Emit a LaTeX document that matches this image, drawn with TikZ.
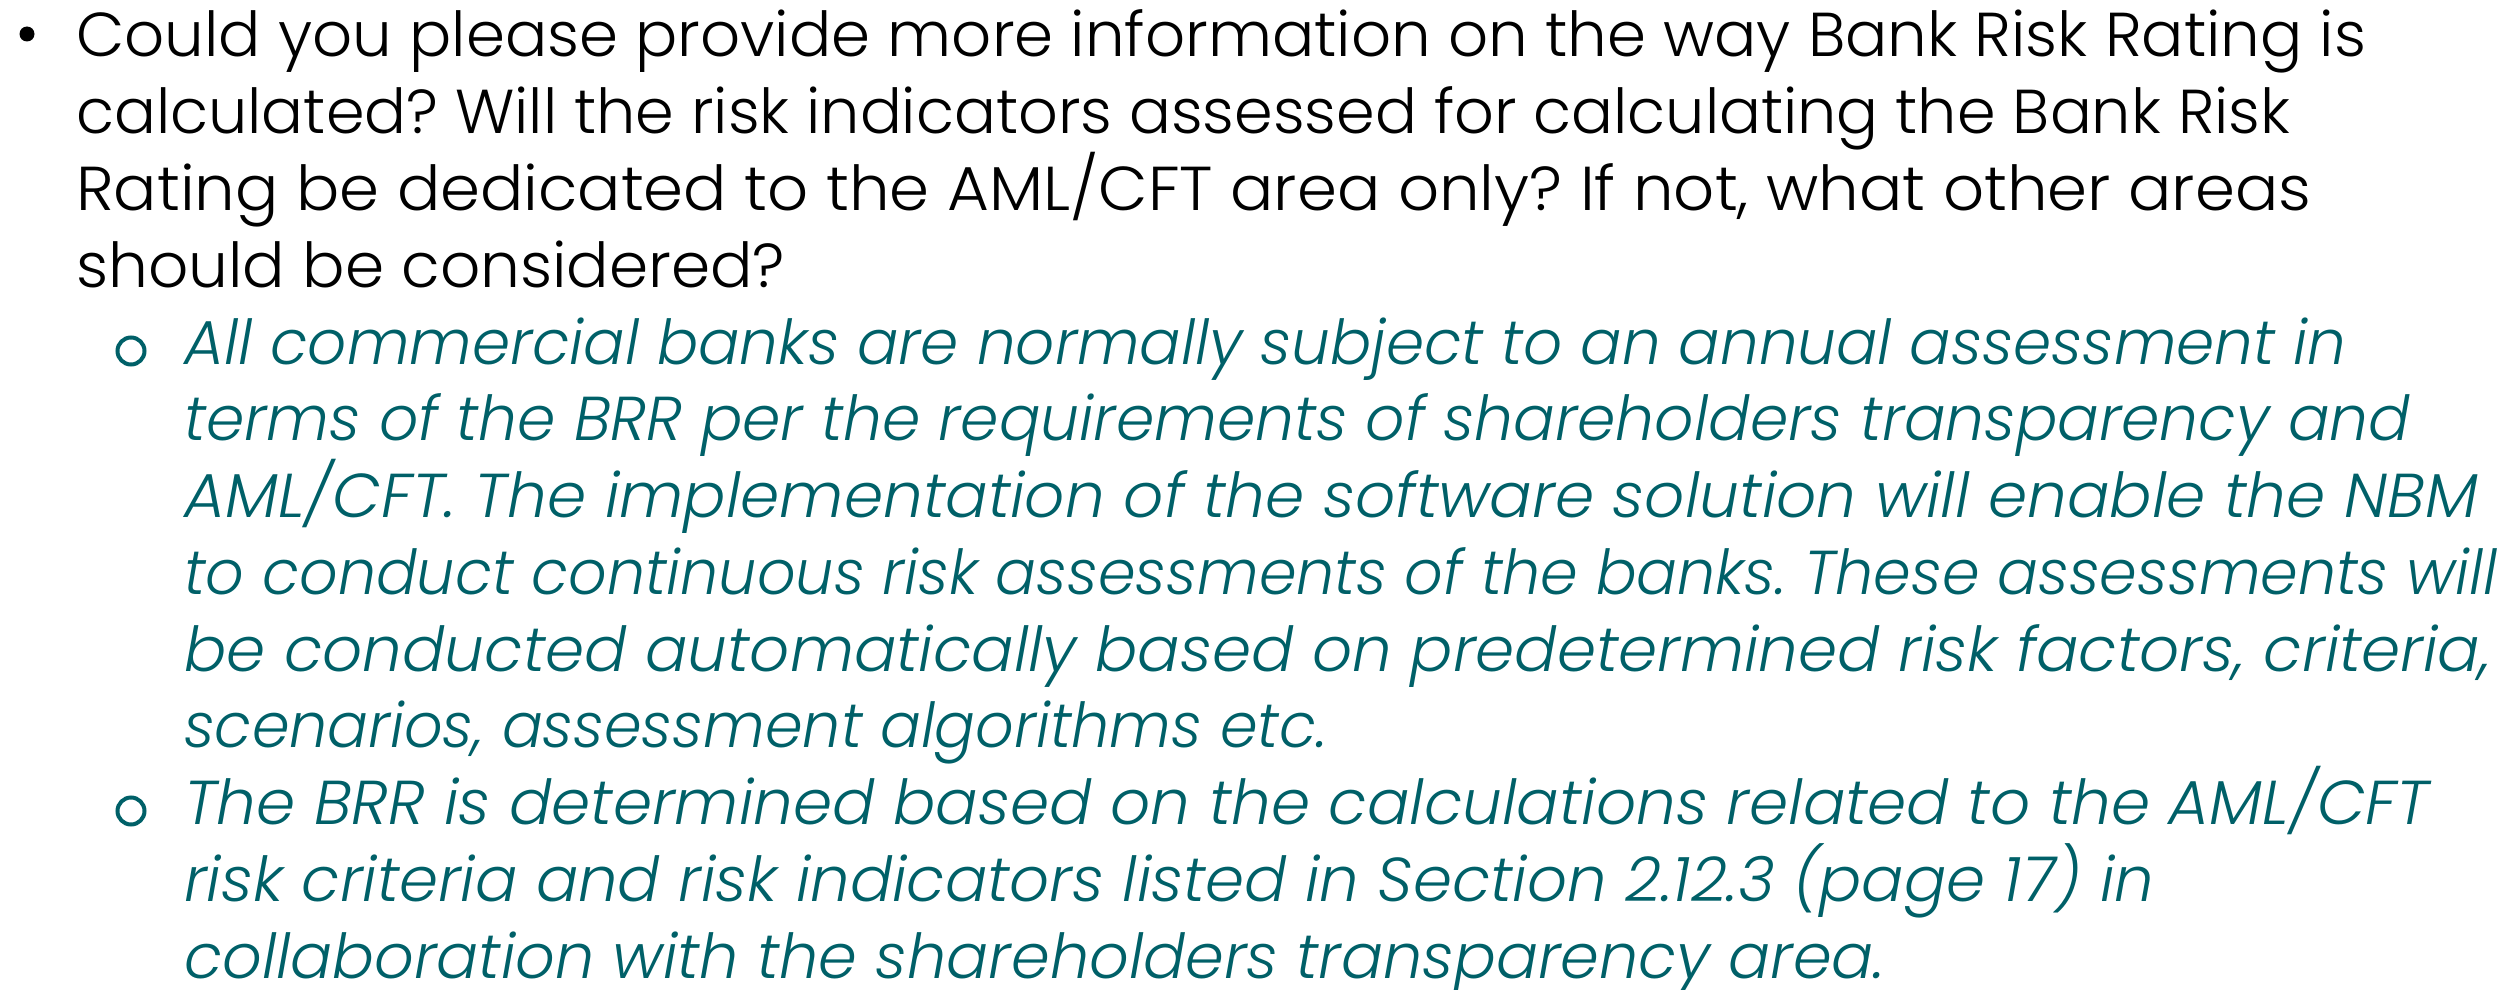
\documentclass[tikz,border=0pt]{standalone}
\usepackage{fontspec}
\setmainfont{Poppins}[UprightFont=* Light, ItalicFont=* Light Italic]
\usepackage{xcolor}
\usepackage{graphicx}
\usetikzlibrary{positioning}
\frenchspacing
\definecolor{ansteal}{RGB}{0,96,104}
% set one line of text to a given width
\newsavebox\linebox
\newcommand{\fitw}[2]{\sbox\linebox{#2}\pgfmathsetmacro\fitfac{#1/\wd\linebox}\scalebox{\fitfac}[1]{\usebox\linebox}}
\tikzset{
  qline/.style={anchor=base west, inner sep=0pt, text=black, font=\fontsize{62}{77}\selectfont},
  aline/.style={anchor=base west, inner sep=0pt, text=ansteal, font=\fontsize{62}{77}\selectfont\itshape},
  mainbul/.style={circle, fill=black, inner sep=0pt, minimum size=15pt},
  subbul/.style={circle, draw=ansteal, line width=4pt, inner sep=0pt, minimum size=27pt}
}

\begin{document}
\begin{tikzpicture}[x=1pt, y=-1pt]
\useasboundingbox (0,0) rectangle (2517,990);
% question
\node[mainbul] (b1) at (27,34) {};
\node[qline] (q1) at (76,57) {\fitw{2290}{Could you please provide more information on the way Bank Risk Rating is}};
\node[qline] (q2) at (76,133.75) {\fitw{2214}{calculated? Will the risk indicators assessed for calculating the Bank Risk}};
\node[qline] (q3) at (76,210.5) {\fitw{2235}{Rating be dedicated to the AML/CFT area only? If not, what other areas}};
\node[qline] (q4) at (76,287.25) {\fitw{709}{should be considered?}};
% first answer
\node[subbul] (s1) at (131,351) {};
\node[aline] (a1) at (184,364) {\fitw{2162}{All commercial banks are normally subject to an annual assessment in}};
\node[aline] (a2) at (184,440.75) {\fitw{2226}{terms of the BRR per the requirements of shareholders transparency and}};
\node[aline] (a3) at (184,517.5) {\fitw{2294}{AML/CFT. The implementation of the software solution will enable the NBM}};
\node[aline] (a4) at (184,594.25) {\fitw{2313}{to conduct continuous risk assessments of the banks. These assessments will}};
\node[aline] (a5) at (184,671) {\fitw{2307}{be conducted automatically based on predetermined risk factors, criteria,}};
\node[aline] (a6) at (184,747.75) {\fitw{1143}{scenarios, assessment algorithms etc.}};
% second answer
\node[subbul] (s2) at (131,811) {};
\node[aline] (a7) at (184,824.5) {\fitw{2245}{The BRR is determined based on the calculations related to the AML/CFT}};
\node[aline] (a8) at (184,901.25) {\fitw{1970}{risk criteria and risk indicators listed in Section 2.12.3 (page 17) in}};
\node[aline] (a9) at (184,978) {\fitw{1701}{collaboration with the shareholders transparency area.}};
\end{tikzpicture}
\end{document}
